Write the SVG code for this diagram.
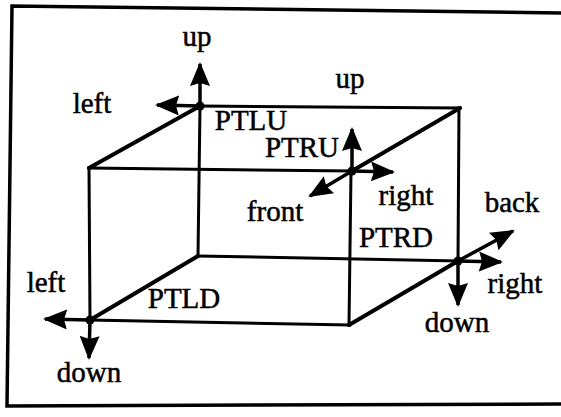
<svg xmlns="http://www.w3.org/2000/svg" width="561" height="417" viewBox="0 0 561 417">
<style>
.lbl{font-family:"Liberation Serif","Times New Roman",serif;font-size:29px;fill:#000;stroke:#000;stroke-width:0.5;text-anchor:middle}
.edge{stroke:#000;stroke-width:3;fill:none;stroke-linecap:square}
.diag{stroke:#000;stroke-width:4;fill:none;stroke-linecap:round}
.arr{stroke:#000;stroke-width:3.5;fill:none;marker-end:url(#ah)}
.frame{stroke:#000;stroke-width:3.5;fill:none}
</style>
<defs>
<marker id="ah" viewBox="0 0 24 20" refX="22" refY="10" markerWidth="24" markerHeight="20" markerUnits="userSpaceOnUse" orient="auto">
<path d="M0,0 L24,10 L0,20 L3,10 Z" fill="#000"/>
</marker>
</defs>
<rect width="561" height="417" fill="#fff"/>
<g id="frame">
<polyline class="frame" points="561,13 12,6 7,406 561,404"/>
</g>
<g id="connectors">
<line class="edge" x1="200" y1="106" x2="460" y2="108"/>
<line class="edge" x1="89" y1="168" x2="352" y2="171"/>
<line class="edge" x1="198" y1="256" x2="458" y2="261"/>
<line class="edge" x1="90" y1="320" x2="349" y2="325"/>
<line class="edge" x1="89" y1="168" x2="90" y2="320"/>
<line class="edge" x1="200" y1="106" x2="198" y2="256"/>
<line class="edge" x1="351" y1="171" x2="349" y2="325"/>
<line class="edge" x1="459" y1="108" x2="458" y2="261"/>
<line class="diag" x1="89" y1="168" x2="200" y2="106"/>
<line class="diag" x1="460" y1="108" x2="352" y2="171"/>
<line class="diag" x1="90" y1="320" x2="198" y2="256"/>
<line class="diag" x1="349" y1="325" x2="458" y2="261"/>
</g>
<g id="PTLU">
<circle cx="200" cy="106" r="4.5"/>
<line class="arr" x1="200" y1="106" x2="200" y2="64"/>
<line class="arr" x1="200" y1="106" x2="157" y2="105"/>
<text class="lbl" x="197" y="46">up</text>
<text class="lbl" x="92" y="113">left</text>
<text class="lbl" x="251" y="130">PTLU</text>
</g>
<g id="PTRU">
<circle cx="352" cy="171" r="4.5"/>
<line class="arr" x1="352" y1="171" x2="352" y2="129"/>
<line class="arr" x1="352" y1="171" x2="393" y2="172"/>
<line class="arr" x1="352" y1="171" x2="310" y2="196"/>
<text class="lbl" x="350" y="88">up</text>
<text class="lbl" x="302" y="157">PTRU</text>
<text class="lbl" x="275" y="221">front</text>
<text class="lbl" x="406" y="205">right</text>
</g>
<g id="PTRD">
<circle cx="458" cy="261" r="4.5"/>
<line class="arr" x1="458" y1="261" x2="458" y2="305"/>
<line class="arr" x1="458" y1="261" x2="501" y2="262"/>
<line class="arr" x1="458" y1="261" x2="513" y2="231"/>
<text class="lbl" x="396" y="247">PTRD</text>
<text class="lbl" x="512" y="212">back</text>
<text class="lbl" x="515" y="293">right</text>
<text class="lbl" x="457" y="332">down</text>
</g>
<g id="PTLD">
<circle cx="90" cy="320" r="4.5"/>
<line class="arr" x1="90" y1="320" x2="45" y2="319"/>
<line class="arr" x1="90" y1="320" x2="89" y2="358"/>
<text class="lbl" x="46" y="292">left</text>
<text class="lbl" x="184" y="308">PTLD</text>
<text class="lbl" x="89" y="382">down</text>
</g>
</svg>
